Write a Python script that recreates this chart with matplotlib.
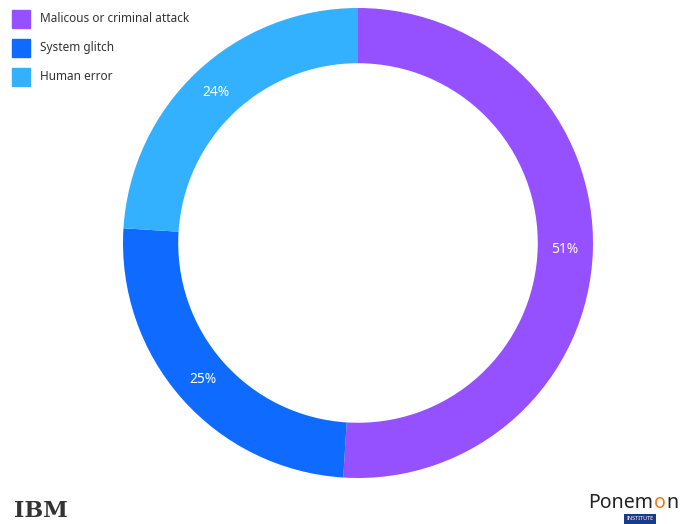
import numpy as np
import matplotlib.pyplot as plt
from matplotlib.patches import Rectangle

labels = ["Malicous or criminal attack", "System glitch", "Human error"]
values = [51, 25, 24]
colors = ["#9550ff", "#0f6bff", "#33b1ff"]

W, H = 696, 524
fig = plt.figure(figsize=(W / 100, H / 100), dpi=100)

# donut centred at (358, 243) px, outer radius 235 px
cx, cy, r = 358, 243, 235
ax = fig.add_axes([(cx - r) / W, (H - cy - r) / H, 2 * r / W, 2 * r / H])
wedges, _ = ax.pie(values, colors=colors, startangle=90, counterclock=False,
                   radius=1, wedgeprops=dict(width=0.235, linewidth=0))
ax.set_xlim(-1, 1)
ax.set_ylim(-1, 1)
ax.set_aspect("equal")
ax.axis("off")

for v, w in zip(values, wedges):
    mid = np.deg2rad((w.theta1 + w.theta2) / 2)
    ax.text(0.88 * np.cos(mid), 0.88 * np.sin(mid), f"{v}%", color="white",
            ha="center", va="center", fontsize=10, family="Noto Sans")

# legend
for i, (lab, c) in enumerate(zip(labels, colors)):
    y = 19 + i * 29
    fig.patches.append(Rectangle((12 / W, 1 - (y + 9) / H), 18 / W, 18 / H,
                                 transform=fig.transFigure, color=c))
    fig.text(40 / W, 1 - y / H, lab, fontsize=8.5, color="#333333",
             va="center", ha="left", family="Noto Sans")

# logos
fig.text(14 / W, 1 - 511 / H, "IBM", fontsize=16, fontweight="bold",
         color="#333333", va="center", ha="left", family="DejaVu Serif")

# "Ponemon" with an orange second "o", pieces placed by measured widths
rend = fig.canvas.get_renderer()
x = 588
for part, col in [("Ponem", "#222222"), ("o", "#f07818"), ("n", "#222222")]:
    t = fig.text(x / W, (H - 508) / H, part, fontsize=14, color=col,
                 va="baseline", ha="left", family="Noto Sans")
    x += t.get_window_extent(rend).width + 0.5

fig.text(640 / W, 1 - 519 / H, "INSTITUTE", fontsize=4, color="white",
         va="center", ha="center", family="Noto Sans",
         bbox=dict(facecolor="#1a3a8a", edgecolor="none", pad=1.5))

fig.savefig("out.png", dpi=100)
